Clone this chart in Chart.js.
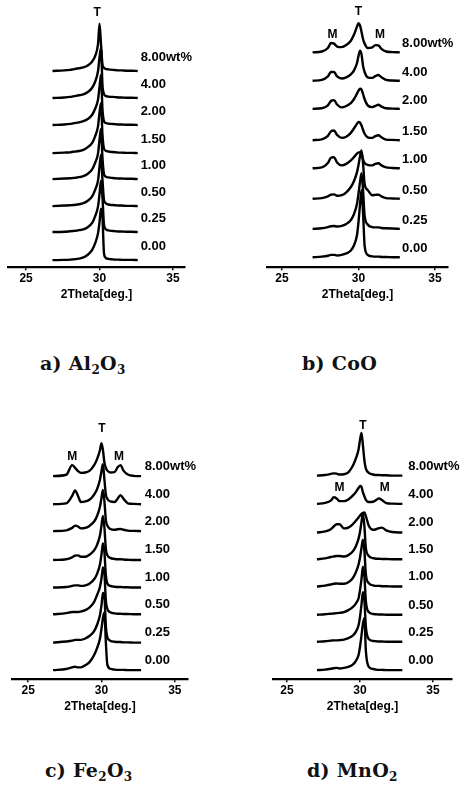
<!DOCTYPE html>
<html>
<head>
<meta charset="utf-8">
<script src="https://cdn.jsdelivr.net/npm/chart.js@4.4.1/dist/chart.umd.min.js"></script>
<style>
  body { margin: 0; background: #fff; width: 469px; height: 788px; position: relative; overflow: hidden; }
  canvas { position: absolute; }
  .cap { position: absolute; font-family: 'DejaVu Serif', serif; font-weight: bold; font-size: 19px; line-height: 24px; color: #111; white-space: nowrap; letter-spacing: 0.3px; }
  .cap sub { font-size: 12px; vertical-align: -4px; line-height: 0; }
</style>
</head>
<body>
<canvas id="pa" width="235" height="302" style="left:0;top:0"></canvas>
<canvas id="pb" width="234" height="302" style="left:235px;top:0"></canvas>
<canvas id="pc" width="235" height="334" style="left:0;top:380px"></canvas>
<canvas id="pd" width="234" height="334" style="left:235px;top:380px"></canvas>
<div class="cap" style="left:40px;top:351px">a) Al<sub>2</sub>O<sub>3</sub></div>
<div class="cap" style="left:302px;top:351px">b) CoO</div>
<div class="cap" style="left:45px;top:758px">c) Fe<sub>2</sub>O<sub>3</sub></div>
<div class="cap" style="left:307px;top:758px">d) MnO<sub>2</sub></div>
<script>
// tick labels and sample labels
const xTicks = [25, 30, 35]
const wtLabels = ['0.00', '0.25', '0.50', '1.00', '1.50', '2.00', '4.00', '8.00wt%']

// 2theta grid of each panel (deg.)
const gridAl = [26.8, 27.6, 28.0, 28.2, 28.4, 28.6, 28.9, 29.2, 29.5, 29.7, 29.9, 30.0, 30.1, 30.2, 30.3, 30.4, 30.6, 30.9, 31.1, 31.3, 31.5, 31.8, 32.2, 32.6]
const gridCo = [27.0, 27.6, 28.0, 28.2, 28.4, 28.6, 28.9, 29.2, 29.5, 29.7, 29.9, 30.0, 30.1, 30.2, 30.3, 30.4, 30.6, 30.9, 31.1, 31.3, 31.5, 31.8, 32.2, 32.7]
const gridFe = [26.7, 27.6, 28.0, 28.2, 28.4, 28.6, 28.9, 29.2, 29.5, 29.7, 29.9, 30.0, 30.1, 30.2, 30.3, 30.4, 30.6, 30.9, 31.1, 31.3, 31.5, 31.8, 32.2, 32.7]
const gridMn = [27.05, 27.6, 28.0, 28.2, 28.4, 28.6, 28.9, 29.2, 29.5, 29.7, 29.9, 30.0, 30.1, 30.2, 30.3, 30.4, 30.6, 30.9, 31.1, 31.3, 31.5, 31.8, 32.2, 32.9]

// vertical offset of each pattern (0.00 ... 8.00wt%)
const offsetAl = [0, 1.04, 2.0, 3.0, 3.96, 5.0, 6.0, 7.0]
const offsetCo = [0, 0.97, 2.0, 3.04, 4.0, 5.07, 6.03, 7.0]
const offsetFe = [0, 1.0, 2.03, 3.0, 4.0, 5.05, 6.03, 7.05]
const offsetMn = [0, 1.03, 2.01, 3.04, 4.03, 5.0, 6.04, 7.07]

// intensities, rows 0.00, 0.25, 0.50, 1.00, 1.50, 2.00, 4.00, 8.00wt%
const intAl = [
  [0, 0.01, 0.02, 0.03, 0.04, 0.06, 0.1, 0.2, 0.38, 0.62, 1.0, 1.4, 1.9, 1.6, 0.3, 0.1, 0.05, 0.03, 0.02, 0.02, 0.01, 0.01, 0.01, 0],
  [0, 0.01, 0.03, 0.04, 0.05, 0.07, 0.1, 0.18, 0.34, 0.58, 0.95, 1.4, 1.9, 1.3, 0.3, 0.12, 0.06, 0.04, 0.03, 0.02, 0.02, 0.01, 0.01, 0],
  [0, 0.02, 0.03, 0.04, 0.05, 0.07, 0.11, 0.2, 0.36, 0.6, 0.95, 1.45, 1.9, 1.0, 0.25, 0.12, 0.06, 0.04, 0.03, 0.02, 0.02, 0.01, 0.01, 0],
  [0, 0.02, 0.03, 0.04, 0.05, 0.07, 0.11, 0.2, 0.36, 0.6, 0.95, 1.45, 1.85, 0.8, 0.2, 0.1, 0.06, 0.04, 0.03, 0.02, 0.02, 0.01, 0.01, 0],
  [0, 0.02, 0.03, 0.05, 0.06, 0.08, 0.12, 0.22, 0.38, 0.62, 1.0, 1.5, 1.85, 0.7, 0.18, 0.1, 0.06, 0.04, 0.03, 0.02, 0.02, 0.01, 0.01, 0],
  [0, 0.02, 0.04, 0.06, 0.08, 0.1, 0.14, 0.22, 0.38, 0.6, 0.95, 1.4, 1.85, 0.6, 0.15, 0.08, 0.05, 0.04, 0.03, 0.02, 0.02, 0.01, 0.01, 0],
  [0, 0.02, 0.04, 0.06, 0.08, 0.1, 0.13, 0.22, 0.38, 0.6, 1.0, 1.5, 1.85, 0.5, 0.15, 0.08, 0.05, 0.04, 0.03, 0.02, 0.02, 0.01, 0.01, 0],
  [0, 0.02, 0.04, 0.06, 0.08, 0.1, 0.13, 0.2, 0.35, 0.55, 1.0, 1.75, 1.0, 0.25, 0.12, 0.08, 0.06, 0.04, 0.03, 0.02, 0.02, 0.01, 0.01, 0]
]
const intCo = [
  [0, 0.02, 0.05, 0.08, 0.08, 0.06, 0.08, 0.13, 0.23, 0.4, 0.75, 1.2, 1.8, 2.3, 1.5, 0.4, 0.08, 0.03, 0.02, 0.02, 0.01, 0.01, 0, 0],
  [0, 0.02, 0.06, 0.09, 0.1, 0.08, 0.1, 0.17, 0.3, 0.5, 0.85, 1.2, 1.6, 1.9, 1.3, 0.45, 0.15, 0.06, 0.05, 0.05, 0.03, 0.02, 0.01, 0],
  [0, 0.02, 0.08, 0.14, 0.15, 0.1, 0.12, 0.22, 0.4, 0.6, 0.9, 1.15, 1.45, 1.65, 1.2, 0.5, 0.3, 0.12, 0.13, 0.14, 0.08, 0.02, 0.01, 0],
  [0, 0.03, 0.18, 0.36, 0.38, 0.2, 0.1, 0.15, 0.27, 0.38, 0.5, 0.54, 0.55, 0.5, 0.3, 0.18, 0.12, 0.1, 0.15, 0.17, 0.1, 0.03, 0.01, 0],
  [0, 0.03, 0.15, 0.3, 0.33, 0.18, 0.08, 0.12, 0.25, 0.4, 0.56, 0.62, 0.6, 0.5, 0.35, 0.22, 0.1, 0.08, 0.14, 0.17, 0.1, 0.02, 0.01, 0],
  [0, 0.02, 0.12, 0.27, 0.3, 0.15, 0.05, 0.1, 0.2, 0.33, 0.52, 0.62, 0.69, 0.66, 0.5, 0.33, 0.12, 0.06, 0.1, 0.14, 0.08, 0.02, 0.01, 0],
  [0, 0.03, 0.15, 0.3, 0.3, 0.15, 0.08, 0.12, 0.22, 0.35, 0.6, 0.85, 1.03, 0.9, 0.5, 0.3, 0.12, 0.1, 0.16, 0.2, 0.12, 0.03, 0.01, 0],
  [0, 0.03, 0.15, 0.32, 0.3, 0.2, 0.18, 0.25, 0.4, 0.6, 0.88, 1.0, 0.92, 0.7, 0.45, 0.3, 0.15, 0.17, 0.25, 0.24, 0.12, 0.03, 0.01, 0]
]
const intFe = [
  [0, 0.04, 0.1, 0.12, 0.1, 0.1, 0.18, 0.3, 0.55, 0.8, 1.15, 1.5, 1.9, 2.1, 1.0, 0.2, 0.05, 0.02, 0.01, 0.01, 0.01, 0, 0, 0],
  [0, 0.04, 0.07, 0.1, 0.1, 0.1, 0.15, 0.25, 0.42, 0.65, 1.0, 1.35, 1.8, 1.7, 0.6, 0.2, 0.07, 0.03, 0.02, 0.02, 0.01, 0.01, 0, 0],
  [0, 0.04, 0.08, 0.08, 0.08, 0.1, 0.15, 0.25, 0.45, 0.7, 1.0, 1.3, 1.7, 1.5, 0.5, 0.2, 0.07, 0.03, 0.02, 0.02, 0.01, 0.01, 0, 0],
  [0, 0.02, 0.06, 0.08, 0.08, 0.06, 0.08, 0.15, 0.3, 0.5, 0.85, 1.2, 1.6, 1.3, 0.45, 0.15, 0.06, 0.03, 0.02, 0.02, 0.01, 0.01, 0, 0],
  [0, 0.03, 0.1, 0.16, 0.17, 0.12, 0.12, 0.2, 0.35, 0.55, 0.9, 1.25, 1.6, 1.2, 0.4, 0.18, 0.08, 0.04, 0.03, 0.03, 0.02, 0.01, 0, 0],
  [0, 0.03, 0.12, 0.2, 0.17, 0.1, 0.12, 0.2, 0.35, 0.55, 0.9, 1.2, 1.5, 1.1, 0.4, 0.2, 0.08, 0.05, 0.07, 0.08, 0.05, 0.02, 0.01, 0],
  [0, 0.03, 0.3, 0.5, 0.3, 0.08, 0.1, 0.17, 0.35, 0.55, 0.9, 1.2, 1.45, 0.9, 0.35, 0.2, 0.1, 0.08, 0.2, 0.33, 0.2, 0.03, 0.01, 0],
  [0, 0.05, 0.4, 0.3, 0.18, 0.12, 0.13, 0.2, 0.4, 0.62, 0.95, 1.2, 0.95, 0.5, 0.3, 0.2, 0.13, 0.15, 0.32, 0.4, 0.2, 0.06, 0.01, 0]
]
const intMn = [
  [0, 0.02, 0.05, 0.07, 0.08, 0.06, 0.08, 0.12, 0.2, 0.32, 0.55, 0.85, 1.25, 1.7, 1.9, 0.7, 0.12, 0.04, 0.02, 0.01, 0.01, 0, 0, 0],
  [0, 0.02, 0.04, 0.05, 0.05, 0.06, 0.08, 0.13, 0.22, 0.35, 0.6, 0.9, 1.35, 1.8, 1.5, 0.55, 0.1, 0.03, 0.02, 0.01, 0.01, 0, 0, 0],
  [0, 0.02, 0.04, 0.05, 0.06, 0.07, 0.1, 0.17, 0.28, 0.4, 0.6, 0.9, 1.3, 1.75, 1.4, 0.5, 0.1, 0.03, 0.02, 0.01, 0.01, 0, 0, 0],
  [0, 0.03, 0.07, 0.1, 0.11, 0.1, 0.1, 0.15, 0.3, 0.5, 0.8, 1.05, 1.4, 1.7, 1.3, 0.45, 0.12, 0.04, 0.02, 0.02, 0.01, 0.01, 0, 0],
  [0, 0.03, 0.08, 0.1, 0.12, 0.12, 0.1, 0.15, 0.28, 0.45, 0.75, 1.0, 1.35, 1.65, 1.2, 0.4, 0.12, 0.04, 0.02, 0.02, 0.01, 0.01, 0, 0],
  [0, 0.04, 0.12, 0.22, 0.3, 0.3, 0.15, 0.18, 0.3, 0.42, 0.55, 0.62, 0.68, 0.72, 0.73, 0.6, 0.25, 0.1, 0.12, 0.16, 0.18, 0.08, 0.02, 0],
  [0, 0.04, 0.12, 0.24, 0.2, 0.1, 0.1, 0.16, 0.3, 0.42, 0.58, 0.65, 0.62, 0.42, 0.28, 0.15, 0.07, 0.08, 0.14, 0.2, 0.14, 0.03, 0.01, 0],
  [0, 0.02, 0.06, 0.08, 0.07, 0.04, 0.05, 0.12, 0.35, 0.6, 0.95, 1.3, 1.55, 1.1, 0.55, 0.25, 0.1, 0.04, 0.02, 0.02, 0.01, 0.01, 0, 0]
]

// phase marks (T = tetragonal, M = monoclinic) at [2theta, height]
const marksAl = [['T', 29.84, 9.14]]
const marksCo = [['T', 30.0, 8.38], ['M', 28.3, 7.59], ['M', 31.4, 7.59]]
const marksFe = [['T', 30.03, 8.79], ['M', 28.0, 7.77], ['M', 31.2, 7.77]]
const marksMn = [['T', 30.2, 8.9], ['M', 28.6, 6.63], ['M', 31.7, 6.63]]

const sans = "'Liberation Sans', Arial, sans-serif"

function drawPanel(id, grid, rows, offsets, marks, o) {
  const datasets = rows.map((row, i) => ({
    data: row.map((v, j) => ({x: grid[j], y: v + offsets[i]})),
    borderColor: '#000',
    borderWidth: 2.4,
    pointRadius: 0,
    fill: false,
    cubicInterpolationMode: 'monotone'
  }))
  const notes = marks.map(m => ({text: m[0], x: m[1], y: m[2], align: 'center', size: 12}))
    .concat(wtLabels.map((t, i) => ({text: t, x: o.wtX, y: offsets[i] + o.wtDy, align: 'left', size: 13})))

  return new Chart(document.getElementById(id), {
    type: 'line',
    data: {datasets},
    options: {
      responsive: false,
      animation: false,
      layout: {padding: o.pad},
      plugins: {legend: {display: false}, tooltip: {enabled: false}},
      scales: {
        x: {
          type: 'linear',
          min: o.x[0],
          max: o.x[1],
          afterBuildTicks: axis => { axis.ticks = xTicks.map(v => ({value: v})) },
          grid: {drawOnChartArea: false, drawTicks: true, tickLength: 3, color: '#000', lineWidth: 1.5},
          border: {display: true, color: '#000', width: 2.2},
          ticks: {color: '#000', padding: 1, maxRotation: 0, autoSkip: false, font: {family: sans, size: 12, weight: 'bold'}},
          title: {display: true, text: '2Theta[deg.]', color: '#000', padding: {top: 1, bottom: 0}, font: {family: sans, size: 12, weight: 'bold'}}
        },
        y: {display: false, min: o.y[0], max: o.y[1]}
      }
    },
    plugins: [{
      id: 'notes',
      afterDatasetsDraw(chart) {
        const {ctx, scales: {x, y}} = chart
        ctx.save()
        ctx.fillStyle = '#000'
        ctx.textBaseline = 'middle'
        notes.forEach(n => {
          ctx.font = 'bold ' + n.size + 'px ' + sans
          ctx.textAlign = n.align
          ctx.fillText(n.text, x.getPixelForValue(n.x), y.getPixelForValue(n.y))
        })
        ctx.restore()
      }
    }]
  })
}

drawPanel('pa', gridAl, intAl, offsetAl, marksAl, {
  pad: {left: 8, right: 50, top: 5, bottom: 0}, x: [23.77, 35.82], y: [-0.26, 9.44], wtX: 32.8, wtDy: 0.5
})
drawPanel('pb', gridCo, intCo, offsetCo, marksCo, {
  pad: {left: 32, right: 21, top: 5, bottom: 0}, x: [24.02, 35.85], y: [-0.34, 8.62], wtX: 32.85, wtDy: 0.3
})
drawPanel('pc', gridFe, intFe, offsetFe, marksFe, {
  pad: {left: 12, right: 47, top: 10, bottom: 0}, x: [23.9, 35.9], y: [-0.33, 10.18], wtX: 32.95, wtDy: 0.37
})
drawPanel('pd', gridMn, intMn, offsetMn, marksMn, {
  pad: {left: 38, right: 17, top: 10, bottom: 0}, x: [24.04, 36.3], y: [-0.33, 10.18], wtX: 33.3, wtDy: 0.35
})
</script>
</body>
</html>
